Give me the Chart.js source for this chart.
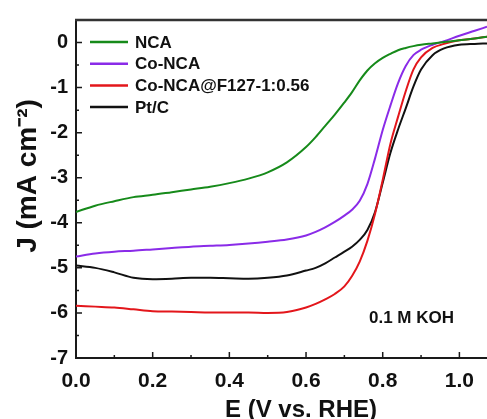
<!DOCTYPE html>
<html>
<head>
<meta charset="utf-8">
<script src="https://cdn.jsdelivr.net/npm/chart.js@4.4.0/dist/chart.umd.min.js"></script>
<style>
  html, body { margin: 0; padding: 0; background: #fff; overflow: hidden; }
  #wrap { width: 487px; height: 419px; position: relative; }
</style>
</head>
<body>
<div id="wrap"><canvas id="lsvChart"></canvas></div>
<script>
// potential (V vs. RHE), shared by all curves
const potentials = [0, 0.05, 0.1, 0.15, 0.2, 0.25, 0.3, 0.35, 0.4, 0.45, 0.5, 0.55, 0.6, 0.625, 0.65, 0.675,
  0.7, 0.72, 0.74, 0.76, 0.78, 0.8, 0.82, 0.84, 0.86, 0.88, 0.9, 0.93, 0.96, 1.0, 1.04, 1.072];

// current density J (mA cm-2)
const ncaJ = [-3.76, -3.62, -3.52, -3.43, -3.38, -3.32, -3.26, -3.20, -3.12, -3.02, -2.88, -2.66, -2.32, -2.10, -1.85, -1.60,
  -1.33, -1.10, -0.84, -0.62, -0.46, -0.34, -0.25, -0.17, -0.12, -0.08, -0.05, -0.02, 0.01, 0.05, 0.09, 0.13];
const coNcaJ = [-4.75, -4.68, -4.64, -4.62, -4.59, -4.56, -4.53, -4.51, -4.49, -4.46, -4.42, -4.37, -4.28, -4.20, -4.10, -3.98,
  -3.84, -3.71, -3.51, -3.14, -2.57, -1.94, -1.40, -0.90, -0.52, -0.28, -0.16, -0.05, 0.03, 0.15, 0.26, 0.35];
const coNcaF127J = [-5.84, -5.86, -5.88, -5.92, -5.96, -5.97, -5.98, -5.99, -5.99, -5.99, -6.00, -5.98, -5.88, -5.80, -5.70, -5.58,
  -5.41, -5.18, -4.86, -4.40, -3.80, -3.05, -2.25, -1.65, -1.08, -0.60, -0.33, -0.12, -0.03, 0.05, 0.09, 0.13];
const ptcJ = [-4.95, -5.00, -5.10, -5.22, -5.25, -5.24, -5.22, -5.22, -5.23, -5.24, -5.22, -5.17, -5.06, -5.00, -4.90, -4.77,
  -4.64, -4.53, -4.38, -4.16, -3.76, -3.11, -2.45, -1.93, -1.46, -0.98, -0.60, -0.28, -0.13, -0.05, -0.03, -0.02];

const seriesNames = ['NCA', 'Co-NCA', 'Co-NCA@F127-1:0.56', 'Pt/C'];
const seriesColors = ['#168a1a', '#8a2be8', '#e3161b', '#111111'];

const xTicks = [0.0, 0.2, 0.4, 0.6, 0.8, 1.0];
const xMinorTicks = [0.1, 0.3, 0.5, 0.7, 0.9];
const yTicks = [0, -1, -2, -3, -4, -5, -6, -7];
const yMinorTicks = [0.5, -0.5, -1.5, -2.5, -3.5, -4.5, -5.5, -6.5];

const axisColor = '#1a1a1a';

function toPoints(values) {
  return potentials.map((e, i) => ({ x: e, y: values[i] }));
}

// inner ticks, top frame, legend and axis titles
const decorations = {
  id: 'decorations',
  afterDraw(chart) {
    const ctx = chart.ctx;
    const area = chart.chartArea;
    const xs = chart.scales.x;
    const ys = chart.scales.y;
    ctx.save();
    ctx.strokeStyle = axisColor;
    ctx.lineWidth = 1.5;
    ctx.beginPath();
    xTicks.forEach(v => {
      const px = xs.getPixelForValue(v);
      ctx.moveTo(px, area.bottom); ctx.lineTo(px, area.bottom - 6);
    });
    xMinorTicks.forEach(v => {
      const px = xs.getPixelForValue(v);
      ctx.moveTo(px, area.bottom); ctx.lineTo(px, area.bottom - 3);
    });
    yTicks.forEach(v => {
      const py = ys.getPixelForValue(v);
      ctx.moveTo(area.left, py); ctx.lineTo(area.left + 6, py);
    });
    yMinorTicks.forEach(v => {
      const py = ys.getPixelForValue(v);
      ctx.moveTo(area.left, py); ctx.lineTo(area.left + 3, py);
    });
    ctx.stroke();

    // top frame line
    ctx.lineWidth = 2.5;
    ctx.strokeStyle = '#333';
    ctx.beginPath();
    ctx.moveTo(area.left - 1, area.top);
    ctx.lineTo(area.right, area.top);
    ctx.stroke();

    // legend
    ctx.font = 'bold 17px "Liberation Sans", Arial, sans-serif';
    ctx.textBaseline = 'middle';
    ctx.textAlign = 'left';
    chart.data.datasets.forEach((ds, i) => {
      const y = area.top + 22 + i * 21.7;
      ctx.strokeStyle = ds.borderColor;
      ctx.lineWidth = 2.5;
      ctx.beginPath();
      ctx.moveTo(area.left + 14, y);
      ctx.lineTo(area.left + 52, y);
      ctx.stroke();
      ctx.fillStyle = '#111';
      ctx.fillText(ds.label, area.left + 59, y + 1);
    });

    // electrolyte note
    ctx.fillText('0.1 M KOH', 369, 318);

    // axis titles
    ctx.font = 'bold 24px "Liberation Sans", Arial, sans-serif';
    ctx.textAlign = 'center';
    ctx.textBaseline = 'alphabetic';
    ctx.fillText('E (V vs. RHE)', 301, 417);

    ctx.translate(36, 176);
    ctx.rotate(-Math.PI / 2);
    ctx.font = 'bold 28px "Liberation Sans", Arial, sans-serif';
    ctx.fillText('J (mA cm\u207B\u00B2)', 0, 0);
    ctx.restore();
  }
};

function makeChart() {
  const ctx = document.getElementById('lsvChart');
  const datasets = [ncaJ, coNcaJ, coNcaF127J, ptcJ].map((vals, i) => ({
    label: seriesNames[i],
    data: toPoints(vals),
    borderColor: seriesColors[i],
    backgroundColor: seriesColors[i],
    borderWidth: 2,
    pointRadius: 0,
    cubicInterpolationMode: 'monotone',
    fill: false
  }));

  new Chart(ctx, {
    type: 'line',
    data: { datasets: datasets },
    options: {
      responsive: true,
      maintainAspectRatio: false,
      animation: false,
      layout: { padding: { top: 15, right: 0, left: 0, bottom: 0 } },
      plugins: {
        legend: { display: false },
        tooltip: { enabled: false }
      },
      scales: {
        x: {
          type: 'linear',
          min: 0,
          max: 1.072,
          afterBuildTicks: (scale) => { scale.ticks = xTicks.map(v => ({ value: v })); },
          afterFit: (scale) => { scale.height = 61; },
          grid: { display: false, drawTicks: false },
          border: { display: true, color: axisColor, width: 2 },
          ticks: {
            padding: 11,
            color: '#111',
            maxRotation: 0,
            font: { family: '"Liberation Sans", Arial, sans-serif', size: 21, weight: 'bold' },
            callback: (v) => Number(v).toFixed(1)
          }
        },
        y: {
          min: -7,
          max: 0.5,
          afterBuildTicks: (scale) => { scale.ticks = yTicks.map(v => ({ value: v })); },
          afterFit: (scale) => { scale.width = 76; },
          grid: { display: false, drawTicks: false },
          border: { display: true, color: axisColor, width: 2 },
          ticks: {
            padding: 8,
            color: '#111',
            font: { family: '"Liberation Sans", Arial, sans-serif', size: 20, weight: 'bold' },
            callback: (v) => String(v)
          }
        }
      }
    },
    plugins: [decorations]
  });
}

makeChart();
</script>
</body>
</html>
